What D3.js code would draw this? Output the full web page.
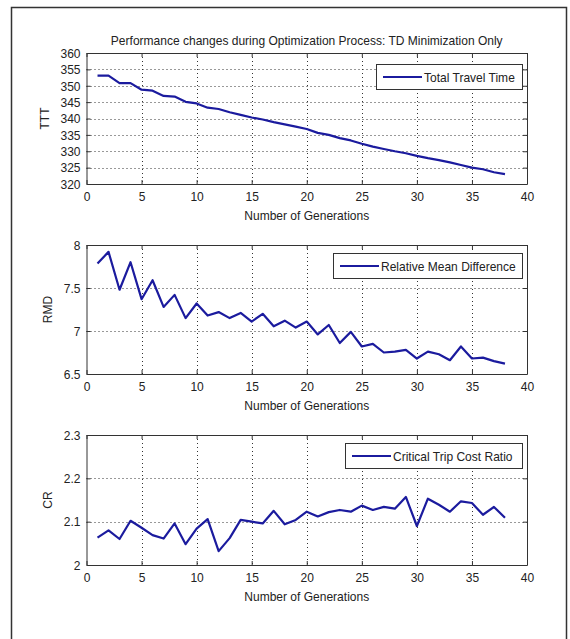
<!DOCTYPE html>
<html>
<head>
<meta charset="utf-8">
<script src="https://cdn.jsdelivr.net/npm/d3@7"></script>
<style>
  body { margin: 0; background: #fff; }
  text { font-family: "Liberation Sans", Arial, sans-serif; fill: #222; }
</style>
</head>
<body>
<script>
// Data
const generations = [1, 2, 3, 4, 5, 6, 7, 8, 9, 10, 11, 12, 13, 14, 15, 16, 17, 18, 19, 20,
    21, 22, 23, 24, 25, 26, 27, 28, 29, 30, 31, 32, 33, 34, 35, 36, 37, 38];

const tttValues = [353.1, 353.1, 350.8, 350.8, 348.8, 348.5, 346.9, 346.7, 345.1, 344.6,
    343.3, 342.9, 341.9, 341.1, 340.3, 339.7, 338.9, 338.2, 337.5, 336.8,
    335.6, 335.0, 334.0, 333.3, 332.3, 331.4, 330.7, 330.0, 329.4, 328.6,
    327.9, 327.3, 326.6, 325.8, 325.0, 324.5, 323.6, 323.0];

const rmdValues = [7.785, 7.92, 7.48, 7.80, 7.37, 7.59, 7.28, 7.42, 7.15, 7.32,
    7.18, 7.22, 7.15, 7.21, 7.11, 7.20, 7.055, 7.12, 7.04, 7.11,
    6.96, 7.07, 6.86, 6.99, 6.82, 6.85, 6.75, 6.76, 6.78, 6.68,
    6.76, 6.73, 6.66, 6.82, 6.68, 6.69, 6.65, 6.62];

const crValues = [2.063, 2.08, 2.06, 2.102, 2.086, 2.069, 2.061, 2.096, 2.048, 2.084,
    2.106, 2.032, 2.062, 2.104, 2.10, 2.096, 2.125, 2.094, 2.104, 2.123,
    2.112, 2.122, 2.127, 2.123, 2.137, 2.127, 2.134, 2.13, 2.157, 2.09,
    2.153, 2.139, 2.123, 2.147, 2.143, 2.116, 2.134, 2.109];

const xTicks = [0, 5, 10, 15, 20, 25, 30, 35, 40];
const tttTicks = [320, 325, 330, 335, 340, 345, 350, 355, 360];
const rmdTicks = [6.5, 7, 7.5, 8];
const crTicks = [2, 2.1, 2.2, 2.3];

const titleText = "Performance changes during Optimization Process: TD Minimization Only";
const xLabelText = "Number of Generations";

// Layout
const width = 570;
const height = 639;
const plotLeft = 86.5;
const plotRight = 527;
const lineColor = "#1b1b9e";
const fontSize = 13.5;
const narrow = 0.89; // MATLAB's font renders narrower than Liberation Sans

// squeeze text horizontally to mimic the condensed look
function condense(sel) {
    sel.each(function () {
        const w = this.getComputedTextLength();
        if (w > 0) {
            d3.select(this)
                .attr("textLength", w * narrow)
                .attr("lengthAdjust", "spacingAndGlyphs");
        }
    });
}

const panels = [
    { values: tttValues, ticks: tttTicks, ylabel: "TTT", legend: "Total Travel Time",
      top: 53, bottom: 184, ylabelX: 49, legendBox: [376, 64, 146, 25] },
    { values: rmdValues, ticks: rmdTicks, ylabel: "RMD", legend: "Relative Mean Difference",
      top: 245, bottom: 374, ylabelX: 52, legendBox: [333, 253, 189, 25] },
    { values: crValues, ticks: crTicks, ylabel: "CR", legend: "Critical Trip Cost Ratio",
      top: 435, bottom: 565, ylabelX: 52, legendBox: [345, 443, 177, 25] }
];

const svg = d3.select("body")
    .append("svg")
    .attr("width", width)
    .attr("height", height);

svg.append("rect")
    .attr("width", width)
    .attr("height", height)
    .attr("fill", "#fff");

// outer figure frame
svg.append("path")
    .attr("d", "M11.5,650 V7.5 H566.5 V650")
    .attr("fill", "none")
    .attr("stroke", "#333")
    .attr("stroke-width", 1.5);

svg.append("text")
    .attr("x", (plotLeft + plotRight) / 2)
    .attr("y", 45)
    .attr("text-anchor", "middle")
    .attr("font-size", fontSize)
    .text(titleText)
    .call(condense);

const x = d3.scaleLinear()
    .domain([xTicks[0], xTicks[xTicks.length - 1]])
    .range([plotLeft, plotRight]);

panels.forEach(p => {
    const y = d3.scaleLinear()
        .domain([p.ticks[0], p.ticks[p.ticks.length - 1]])
        .range([p.bottom, p.top]);

    const g = svg.append("g");

    // dotted grid
    g.append("g")
        .selectAll("line")
        .data(xTicks.slice(1, -1))
        .enter()
        .append("line")
        .attr("x1", d => Math.round(x(d)) + 0.5)
        .attr("x2", d => Math.round(x(d)) + 0.5)
        .attr("y1", p.top)
        .attr("y2", p.bottom)
        .attr("stroke", "#333")
        .attr("stroke-dasharray", "1,3");

    g.append("g")
        .selectAll("line")
        .data(p.ticks.slice(1, -1))
        .enter()
        .append("line")
        .attr("x1", plotLeft)
        .attr("x2", plotRight)
        .attr("y1", d => Math.round(y(d)) + 0.5)
        .attr("y2", d => Math.round(y(d)) + 0.5)
        .attr("stroke", "#333")
        .attr("stroke-dasharray", "1,3");

    // axes: inward ticks on all four sides (MATLAB style box)
    const axisStyle = sel => {
        sel.select(".domain").attr("stroke", "#333");
        sel.selectAll(".tick line").attr("stroke", "#333");
        sel.selectAll("text")
            .attr("font-size", fontSize)
            .attr("font-family", "Liberation Sans, Arial, sans-serif")
            .attr("fill", "#222")
            .call(condense);
    };

    g.append("g")
        .attr("transform", `translate(0,${p.bottom})`)
        .call(d3.axisBottom(x).tickValues(xTicks).tickSizeInner(-4).tickSizeOuter(0).tickPadding(7).tickFormat(d3.format("d")))
        .call(axisStyle);

    g.append("g")
        .attr("transform", `translate(0,${p.top})`)
        .call(d3.axisTop(x).tickValues(xTicks).tickSizeInner(-4).tickSizeOuter(0).tickFormat(""))
        .call(axisStyle);

    g.append("g")
        .attr("transform", `translate(${plotLeft},0)`)
        .call(d3.axisLeft(y).tickValues(p.ticks).tickSizeInner(-4).tickSizeOuter(0).tickPadding(6).tickFormat(d => String(d)))
        .call(axisStyle);

    g.append("g")
        .attr("transform", `translate(${plotRight},0)`)
        .call(d3.axisRight(y).tickValues(p.ticks).tickSizeInner(-4).tickSizeOuter(0).tickFormat(""))
        .call(axisStyle);

    // axis labels
    g.append("text")
        .attr("transform", `translate(${p.ylabelX},${(p.top + p.bottom) / 2}) rotate(-90)`)
        .attr("text-anchor", "middle")
        .attr("font-size", fontSize)
        .text(p.ylabel)
        .call(condense);

    g.append("text")
        .attr("x", (plotLeft + plotRight) / 2)
        .attr("y", p.bottom + 36)
        .attr("text-anchor", "middle")
        .attr("font-size", fontSize)
        .text(xLabelText)
        .call(condense);

    // data line
    const line = d3.line()
        .x((d, i) => x(generations[i]))
        .y(d => y(d));

    g.append("path")
        .datum(p.values)
        .attr("d", line)
        .attr("fill", "none")
        .attr("stroke", lineColor)
        .attr("stroke-width", 2.2)
        .attr("stroke-linejoin", "round");

    // legend
    const [lx, ly, lw, lh] = p.legendBox;
    const legend = g.append("g")
        .attr("transform", `translate(${lx},${ly})`);

    legend.append("rect")
        .attr("x", 0.5)
        .attr("y", 0.5)
        .attr("width", lw)
        .attr("height", lh)
        .attr("fill", "#fff")
        .attr("stroke", "#333");

    legend.append("line")
        .attr("x1", 7)
        .attr("x2", 46)
        .attr("y1", lh / 2 + 0.5)
        .attr("y2", lh / 2 + 0.5)
        .attr("stroke", lineColor)
        .attr("stroke-width", 2.2);

    legend.append("text")
        .attr("x", 48)
        .attr("y", lh / 2 + 5.2)
        .attr("font-size", fontSize)
        .text(p.legend)
        .call(condense);
});
</script>
</body>
</html>
